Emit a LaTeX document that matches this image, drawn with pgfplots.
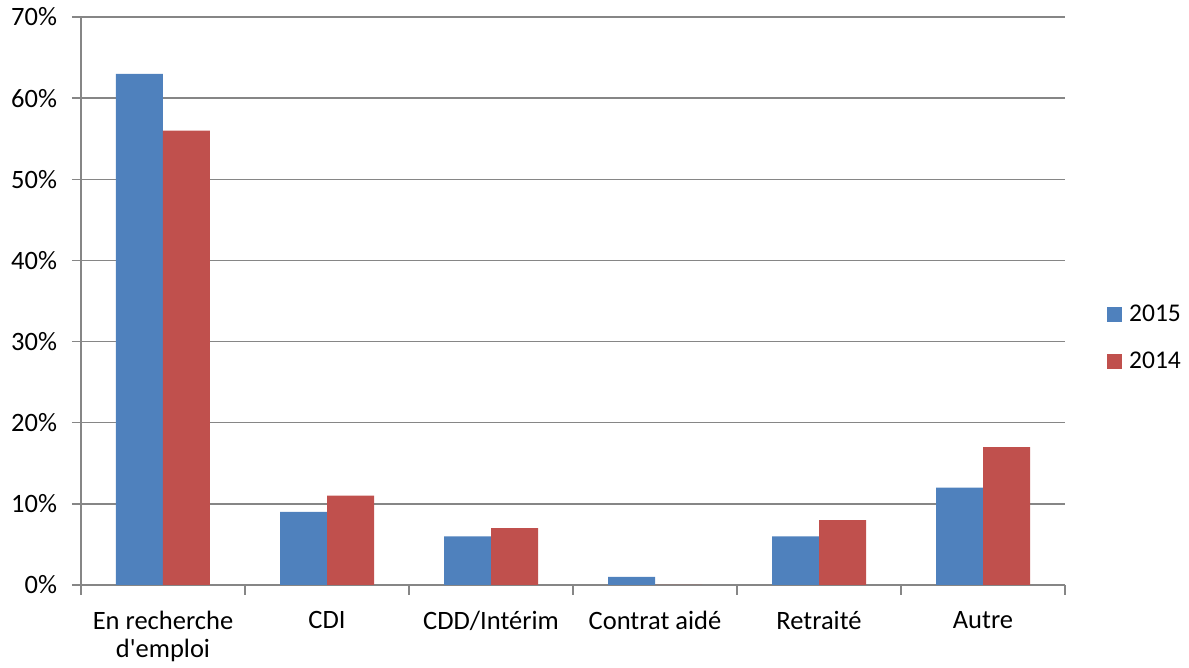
\documentclass[border=0pt]{standalone}
\usepackage{fontspec}
\setmainfont{Carlito}
\usepackage{pgfplots}
\pgfplotsset{compat=1.18}
\definecolor{s15}{RGB}{79,129,189}
\definecolor{s14}{RGB}{192,80,77}
\definecolor{gridc}{RGB}{134,134,134}
\begin{document}
\begin{tikzpicture}
\begin{axis}[
  scale only axis, width=984pt, height=568pt,
  ybar=0pt, bar width=47pt,
  xmin=-0.5, xmax=5.5, ymin=0, ymax=70,
  axis x line*=bottom, axis y line*=left,
  axis line style={gridc, line width=1.5pt},
  ymajorgrids, grid style={gridc, line width=1.5pt},
  ytick={0,10,...,70},
  yticklabel={\pgfmathprintnumber{\tick}\%},
  /pgf/number format/assume math mode=true,
  xtick={0,...,5},
  xticklabels={{En recherche\\d\textquotesingle emploi},CDI,CDD/Intérim,Contrat aidé,Retraité,Autre},
  xticklabel style={align=center, yshift=-13.5pt},
  yticklabel style={xshift=-11.5pt},
  minor xtick={-0.5,0.5,...,5.5},
  tick align=outside,
  major tick length=9pt, minor tick length=10pt,
  major x tick style={draw=none},
  tick style={gridc, line width=1.5pt},
  ticklabel style={font=\fontsize{26.5}{28}\selectfont},
  legend style={at={(1.0396,0.4355)}, anchor=west, draw=none, fill=none,
    font=\fontsize{25.5}{28}\selectfont, row sep=25pt,
    /tikz/every odd column/.style={column sep=5pt}},
  legend cell align=left,
  legend image code/.code={\fill[#1,draw=none] (0pt,-7.5pt) rectangle (15pt,7.5pt);},
]
\addplot[fill=s15, draw=none] coordinates {(0,63) (1,9) (2,6) (3,1) (4,6) (5,12)};
\addplot[fill=s14, draw=none] coordinates {(0,56) (1,11) (2,7) (3,0) (4,8) (5,17)};
\legend{2015,2014}
\end{axis}
\path (current axis.south west) ++(-81pt,-83pt) rectangle ++(1189pt,668pt);
\end{tikzpicture}
\end{document}
